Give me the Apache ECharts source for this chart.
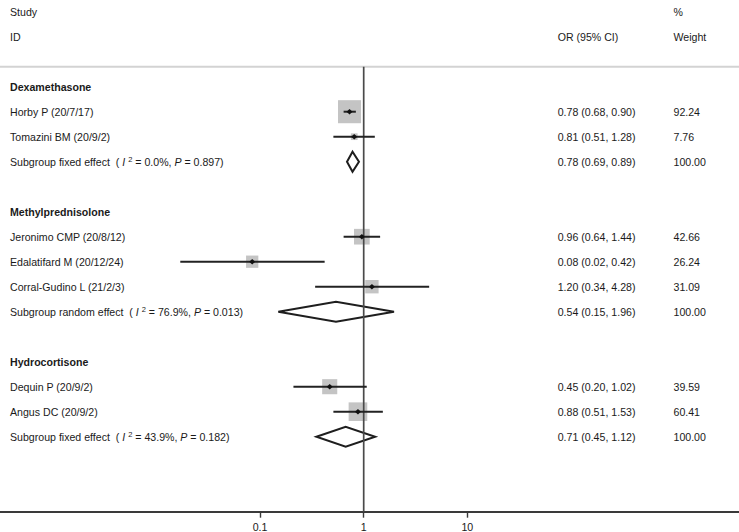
<!DOCTYPE html>
<html><head><meta charset="utf-8">
<script src="https://cdn.jsdelivr.net/npm/echarts@6/dist/echarts.min.js"></script>
<style>html,body{margin:0;padding:0;background:#fff}#c{width:739px;height:532px}</style>
</head><body><div id="c"></div>
<script>
// ---- data ----
const groupNames = ['Dexamethasone', 'Methylprednisolone', 'Hydrocortisone'];
const groupRows = [3, 8, 14];

const studyNames = ['Horby P (20/7/17)', 'Tomazini BM (20/9/2)', 'Jeronimo CMP (20/8/12)', 'Edalatifard M (20/12/24)', 'Corral-Gudino L (21/2/3)', 'Dequin P (20/9/2)', 'Angus DC (20/9/2)'];
const studyRows = [4, 5, 9, 10, 11, 15, 16];
const studyOR = [0.73, 0.81, 0.96, 0.084, 1.2, 0.47, 0.88];
const studyLo = [0.64, 0.51, 0.64, 0.017, 0.34, 0.21, 0.51];
const studyHi = [0.84, 1.28, 1.44, 0.42, 4.28, 1.07, 1.53];
const studyWeight = [92.24, 7.76, 42.66, 26.24, 31.09, 39.59, 60.41];
const studyCIText = ['0.78 (0.68, 0.90)', '0.81 (0.51, 1.28)', '0.96 (0.64, 1.44)', '0.08 (0.02, 0.42)', '1.20 (0.34, 4.28)', '0.45 (0.20, 1.02)', '0.88 (0.51, 1.53)'];
const studyWeightText = ['92.24', '7.76', '42.66', '26.24', '31.09', '39.59', '60.41'];

const pooledLabels = ['Subgroup fixed effect', 'Subgroup random effect', 'Subgroup fixed effect'];
const pooledI2 = ['0.0%', '76.9%', '43.9%'];
const pooledP = ['0.897', '0.013', '0.182'];
const pooledRows = [6, 12, 17];
const pooledOR = [0.78, 0.54, 0.67];
const pooledLo = [0.69, 0.15, 0.35];
const pooledHi = [0.90, 1.96, 1.29];
const pooledCIText = ['0.78 (0.69, 0.89)', '0.54 (0.15, 1.96)', '0.71 (0.45, 1.12)'];
const pooledWeightText = ['100.00', '100.00', '100.00'];

const xTicks = [0.1, 1, 10];
const headerRow0 = ['Study', '', '%'];
const headerRow1 = ['ID', 'OR (95% CI)', 'Weight'];
const separatorRow = 2.2;
const axisRow = 20;

// ---- styles / layout ----
const FONT = "'Liberation Sans', Arial, Helvetica, sans-serif";
const FS = 10.6;
const TXT = '#1a1a1a';
const colX = [10, 557.7, 673.5];

const textItems = [];
function addText(row, col, text, bold, rich) {
  if (text === '') return;
  textItems.push({ row, col, text, bold: !!bold, rich: !!rich });
}
headerRow0.forEach((t, c) => addText(0, c, t));
headerRow1.forEach((t, c) => addText(1, c, t));
groupNames.forEach((g, i) => addText(groupRows[i], 0, g, true));
studyNames.forEach((s, i) => {
  addText(studyRows[i], 0, s);
  addText(studyRows[i], 1, studyCIText[i]);
  addText(studyRows[i], 2, studyWeightText[i]);
});
pooledLabels.forEach((s, i) => {
  addText(pooledRows[i], 0, s + '  ( {i|I} {sup|2} = ' + pooledI2[i] + ', {i|P} = ' + pooledP[i] + ')', false, true);
  addText(pooledRows[i], 1, pooledCIText[i]);
  addText(pooledRows[i], 2, pooledWeightText[i]);
});

const chart = echarts.init(document.getElementById('c'), null, { renderer: 'svg' });

const PX_PER_DEC = 103.65;
const X1 = 363.7;
const xMin = Math.pow(10, -X1 / PX_PER_DEC);
const xMax = Math.pow(10, (739 - X1) / PX_PER_DEC);

const option = {
  animation: false,
  grid: { left: 0, right: 0, top: 11.7, bottom: 20.3, containLabel: false, outerBoundsMode: 'none' },
  xAxis: {
    type: 'log', logBase: 10, min: xMin, max: xMax, position: 'bottom',
    axisLine: { show: true, onZero: false, lineStyle: { color: '#3a3a3a', width: 1.8 } },
    axisTick: { show: true, length: 6, lineStyle: { color: '#3a3a3a', width: 1.4 }, customValues: xTicks },
    axisLabel: { show: true, customValues: xTicks, margin: 10, color: TXT, fontFamily: FONT, fontSize: FS,
      formatter: v => String(+(+v).toPrecision(6)) },
    splitLine: { show: false }, minorTick: { show: false }
  },
  yAxis: { type: 'value', inverse: true, min: 0, max: 20, show: false },
  series: [
    { // separator
      type: 'custom', z: 1, silent: true,
      data: [[1, separatorRow]],
      renderItem(params, api) {
        const p = api.coord([1, separatorRow]);
        return { type: 'line', shape: { x1: 0, y1: p[1], x2: api.getWidth(), y2: p[1] }, style: { stroke: '#d3d3d3', lineWidth: 2 } };
      }
    },
    { // weight boxes
      type: 'custom', z: 2, silent: true,
      data: studyRows.map((r, i) => [studyOR[i], r]),
      renderItem(params, api) {
        const i = params.dataIndex;
        const p = api.coord([studyOR[i], studyRows[i]]);
        const s = 2.4 * Math.sqrt(studyWeight[i]);
        return { type: 'rect', shape: { x: p[0] - s / 2, y: p[1] - s / 2, width: s, height: s }, style: { fill: '#c4c4c4' } };
      }
    },
    { // pooled diamonds
      type: 'custom', z: 3, silent: true,
      data: pooledRows.map((r, i) => [pooledOR[i], r]),
      renderItem(params, api) {
        const i = params.dataIndex;
        const r = pooledRows[i];
        const c = api.coord([pooledOR[i], r]);
        const l = api.coord([pooledLo[i], r]);
        const h = api.coord([pooledHi[i], r]);
        const t = api.coord([pooledOR[i], r - 0.4]);
        const b = api.coord([pooledOR[i], r + 0.4]);
        return { type: 'polygon', shape: { points: [[l[0], c[1]], [c[0], t[1]], [h[0], c[1]], [c[0], b[1]]] },
          style: { fill: '#fff', stroke: '#1e1e1e', lineWidth: 2 } };
      }
    },
    { // null line
      type: 'custom', z: 4, silent: true,
      data: [[1, separatorRow]],
      renderItem(params, api) {
        const a = api.coord([1, separatorRow]);
        const b = api.coord([1, axisRow]);
        return { type: 'line', shape: { x1: a[0], y1: a[1], x2: b[0], y2: b[1] }, style: { stroke: '#4a4a4a', lineWidth: 1.7 } };
      }
    },
    { // CI lines + points
      type: 'custom', z: 5, silent: true,
      data: studyRows.map((r, i) => [studyOR[i], r]),
      renderItem(params, api) {
        const i = params.dataIndex;
        const r = studyRows[i];
        const p = api.coord([studyOR[i], r]);
        const l = api.coord([studyLo[i], r]);
        const h = api.coord([studyHi[i], r]);
        return { type: 'group', children: [
          { type: 'line', shape: { x1: l[0], y1: p[1], x2: h[0], y2: p[1] }, style: { stroke: '#222', lineWidth: 2 } },
          { type: 'polygon', shape: { points: [[p[0] - 3, p[1]], [p[0], p[1] - 2.8], [p[0] + 3, p[1]], [p[0], p[1] + 2.8]] }, style: { fill: '#111' } }
        ] };
      }
    },
    { // table text
      type: 'custom', z: 6, silent: true,
      data: textItems.map(t => [1, t.row]),
      renderItem(params, api) {
        const t = textItems[params.dataIndex];
        const y = api.coord([1, t.row])[1];
        const style = { text: t.text, x: 0, y: 0, fill: TXT, fontFamily: FONT, fontSize: FS,
          fontWeight: t.bold ? 'bold' : 'normal', align: 'left', verticalAlign: 'middle' };
        if (t.rich) {
          style.rich = {
            i: { fontStyle: 'italic', fontFamily: FONT, fontSize: FS, fill: TXT },
            sup: { fontFamily: FONT, fontSize: 7.5, fill: TXT, verticalAlign: 'top', lineHeight: 12 }
          };
        }
        return { type: 'text', x: colX[t.col], y: y, style };
      }
    }
  ]
};
chart.setOption(option);
</script>
</body></html>
